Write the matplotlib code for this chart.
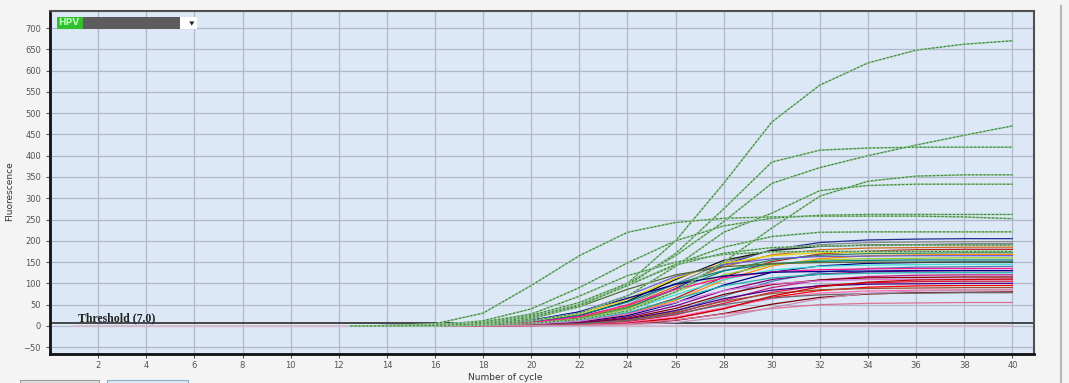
import matplotlib.pyplot as plt
from matplotlib.patches import Rectangle, Polygon
from matplotlib.lines import Line2D

# cycles where fluorescence was sampled
cycles = [12.5, 14, 16, 18, 20, 22, 24, 26, 28, 30, 32, 34, 36, 38, 40]

# bulk of samples (plateau 55..205)
cluster = [
    ([0, 0, 1, 2, 5, 16, 41, 88, 144, 179, 196, 202, 204, 205, 205], '#1f2f8f'),
    ([0, 0, 1, 2, 7, 19, 50, 99, 149, 178, 191, 196, 197, 198, 198], '#8a8a8a'),
    ([0, 0, 1, 3, 9, 24, 58, 109, 154, 177, 187, 190, 191, 192, 192], '#101010'),
    ([0, 0, 1, 2, 6, 18, 46, 93, 139, 167, 179, 183, 184, 185, 185], '#d2691e'),
    ([0, 0, 0, 1, 4, 10, 29, 65, 115, 151, 169, 176, 179, 180, 180], '#b22222'),
    ([0, 0, 1, 4, 10, 28, 63, 112, 147, 165, 172, 174, 175, 175, 175], '#e6d200'),
    ([0, 0, 1, 2, 6, 17, 43, 86, 129, 155, 166, 170, 171, 172, 172], '#2e8b57'),
    ([0, 0, 0, 1, 3, 10, 27, 60, 108, 141, 158, 165, 167, 168, 168], '#ff8c00'),
    ([0, 0, 1, 4, 13, 33, 71, 116, 144, 158, 163, 164, 165, 165, 165], '#6a5acd'),
    ([0, 0, 1, 2, 5, 16, 40, 80, 120, 144, 155, 158, 159, 160, 160], '#9acd32'),
    ([0, 0, 1, 3, 9, 25, 56, 99, 130, 146, 152, 154, 155, 155, 155], '#008080'),
    ([0, 0, 0, 1, 3, 9, 24, 54, 96, 126, 141, 147, 149, 150, 150], '#000080'),
    ([0, 0, 1, 2, 5, 14, 36, 73, 109, 131, 140, 143, 144, 145, 145], '#40e0d0'),
    ([0, 0, 0, 1, 2, 5, 14, 35, 70, 105, 126, 135, 138, 139, 140], '#4682b4'),
    ([0, 0, 1, 3, 8, 22, 49, 86, 113, 127, 132, 134, 135, 135, 135], '#ff1493'),
    ([0, 0, 0, 1, 3, 8, 21, 47, 83, 109, 122, 127, 129, 130, 130], '#800080'),
    ([0, 0, 0, 2, 4, 12, 31, 63, 94, 113, 121, 124, 125, 125, 125], '#20b2aa'),
    ([0, 0, 0, 0, 1, 4, 12, 30, 60, 90, 108, 116, 119, 120, 120], '#c71585'),
    ([0, 0, 0, 1, 2, 7, 18, 41, 74, 97, 108, 113, 114, 115, 115], '#8b0000'),
    ([0, 0, 0, 1, 4, 11, 28, 55, 83, 99, 106, 109, 110, 110, 110], '#da70d6'),
    ([0, 0, 0, 0, 1, 4, 10, 26, 53, 79, 95, 101, 104, 105, 105], '#dc143c'),
    ([0, 0, 0, 1, 2, 6, 16, 36, 64, 84, 94, 98, 99, 100, 100], '#4b0082'),
    ([0, 0, 0, 0, 1, 2, 7, 19, 41, 67, 83, 91, 94, 95, 95], '#ff0000'),
    ([0, 0, 0, 1, 2, 5, 14, 32, 58, 76, 85, 88, 89, 90, 90], '#a0522d'),
    ([0, 0, 0, 0, 1, 3, 8, 21, 43, 64, 77, 82, 84, 85, 85], '#ff69b4'),
    ([0, 0, 0, 0, 1, 2, 5, 13, 29, 51, 67, 75, 78, 79, 80], '#800000'),
    ([0, 0, 0, 1, 2, 5, 12, 28, 50, 66, 73, 76, 77, 78, 78], '#696969'),
    ([0, 0, 0, 0, 1, 2, 6, 18, 40, 70, 92, 103, 108, 109, 110], '#cc0000'),
    ([0, 1, 2, 4, 13, 33, 65, 98, 117, 126, 128, 129, 130, 130, 130], '#00008b'),
    ([0, 1, 2, 7, 19, 45, 86, 120, 139, 146, 149, 150, 150, 150, 150], '#556b2f'),
    ([0, 0, 0, 0, 1, 2, 5, 14, 28, 41, 50, 53, 54, 55, 55], '#db7093'),
    ([0, 0, 0, 0, 0, 1, 3, 8, 21, 43, 64, 77, 82, 84, 85], '#c890b8'),
]

# strong positives (green traces)
greens = [
    [0, 0, 2, 6, 18, 45, 100, 200, 335, 479, 566, 618, 648, 662, 670],
    [0, 0, 3, 10, 25, 55, 100, 165, 245, 335, 372, 400, 425, 448, 470],
    [0, 0, 2, 8, 22, 50, 95, 170, 275, 385, 413, 418, 420, 420, 420],
    [0, 0, 0, 2, 6, 15, 35, 80, 150, 230, 305, 340, 352, 355, 355],
    [0, 0, 1, 4, 12, 30, 70, 140, 220, 265, 318, 330, 333, 333, 333],
    [0, 0, 5, 30, 95, 165, 220, 243, 253, 256, 258, 258, 258, 256, 252],
    [0, 0, 2, 12, 40, 90, 148, 200, 235, 253, 260, 262, 262, 262, 262],
    [0, 0, 1, 6, 20, 50, 95, 145, 185, 210, 220, 221, 221, 221, 221],
    [0, 0, 2, 9, 28, 70, 118, 150, 168, 174, 175, 175, 175, 175, 175],
    [0, 0, 1, 5, 16, 48, 95, 143, 171, 184, 188, 189, 190, 190, 190],
]

flat_cycles = [1, 40]
flat_values = [0, 0]
threshold = 7.0

fig = plt.figure(figsize=(10.69, 3.83), dpi=100, facecolor='#f4f4f4')
ax = fig.add_axes([0.0468, 0.0757, 0.9205, 0.8956])
ax.set_facecolor('#dde8f6')

ax.plot(flat_cycles, flat_values, color='#d8b8c8', linewidth=1.2)
ax.axhline(threshold, color='#3a3a3a', linewidth=1.3)

for vals, col in cluster:
    ax.plot(cycles, vals, color=col, linewidth=0.9)

for vals in greens:
    ax.plot(cycles, vals, color='#8fcf8f', linewidth=1.2)
    ax.plot(cycles, vals, color='#4a6a50', linewidth=0.7, dashes=(2, 2))

ax.text(1.15, 10, 'Threshold (7.0)', family='Liberation Serif', fontweight='bold',
        fontsize=8.5, color='#202020')

ax.set_xlim(0, 40.9)
ax.set_ylim(-66, 740)
ax.set_xticks(range(2, 41, 2))
ax.set_yticks(range(-50, 701, 50))
ax.grid(True, color='#aeb8ca', linewidth=0.9)
ax.set_axisbelow(True)
ax.tick_params(labelsize=6, colors='#555555', length=3)
ax.tick_params(axis='x', pad=2)
for s in ['left', 'bottom']:
    ax.spines[s].set_color('#111111')
    ax.spines[s].set_linewidth(2)
for s in ['top', 'right']:
    ax.spines[s].set_color('#505050')
    ax.spines[s].set_linewidth(1.5)

fig.text(0.009, 0.5, 'Fluorescence', rotation=90, fontsize=6.5, color='#333333',
         va='center', ha='center')
fig.text(0.473, 0.0145, 'Number of cycle', fontsize=6.5, color='#333333',
         ha='center', va='center')

# channel selector in the top-left corner
fig.patches.append(Rectangle((0.0533, 0.924), 0.0243, 0.0313, transform=fig.transFigure,
                             facecolor='#2fbf2f', edgecolor='none'))
fig.patches.append(Rectangle((0.0776, 0.924), 0.0908, 0.0313, transform=fig.transFigure,
                             facecolor='#5c5c5c', edgecolor='none'))
fig.patches.append(Rectangle((0.1684, 0.924), 0.0159, 0.0313, transform=fig.transFigure,
                             facecolor='white', edgecolor='none'))
fig.patches.append(Polygon([(0.1770, 0.944), (0.1818, 0.944), (0.1794, 0.933)],
                           transform=fig.transFigure, facecolor='#222222'))
fig.text(0.0545, 0.94, 'HPV', fontsize=6.5, color='#b8ffb0', va='center', fontweight='bold')

# window chrome
fig.lines.append(Line2D([0.9925, 0.9925], [0, 0.985], transform=fig.transFigure,
                        color='#b8b8b8', linewidth=1.5))
fig.patches.append(Rectangle((0.019, -0.01), 0.074, 0.018, transform=fig.transFigure,
                             facecolor='#e0e0e0', edgecolor='#9a9a9a', linewidth=0.8))
fig.patches.append(Rectangle((0.1, -0.01), 0.076, 0.018, transform=fig.transFigure,
                             facecolor='#d8eaf4', edgecolor='#8ab0c8', linewidth=0.8))

fig.savefig('out.png', dpi=100, facecolor=fig.get_facecolor())
